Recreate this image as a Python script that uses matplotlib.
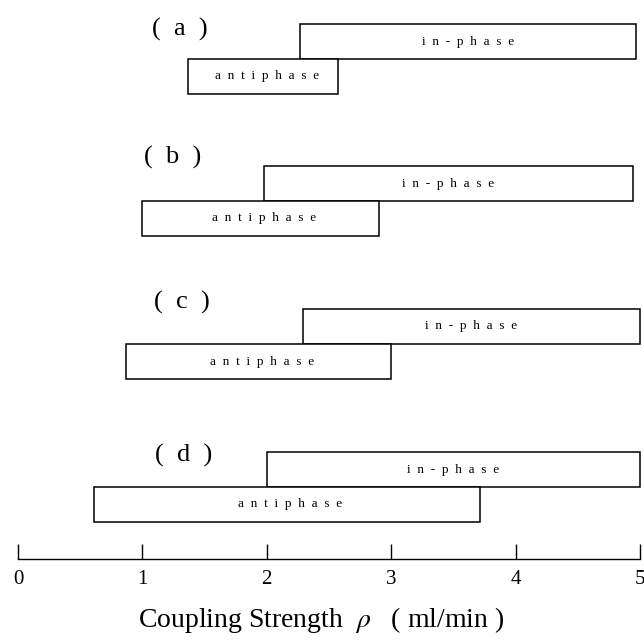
import matplotlib
matplotlib.use('Agg')
import matplotlib.pyplot as plt

########## data ##########
panels = ['(  a  )', '(  b  )', '(  c  )', '(  d  )']
inphase_start = [2.27, 1.98, 2.29, 2.0]
inphase_end = [4.97, 4.94, 5.0, 5.0]
antiphase_start = [1.37, 1.0, 0.87, 0.61]
antiphase_end = [2.57, 2.9, 3.0, 3.71]
xticks = [0, 1, 2, 3, 4, 5]

########## layout (figure pixel rows) ##########
row_mid = [59, 201, 344, 487]   # border between in-phase and antiphase bars
bar_h = 35
label_x = [1.30, 1.24, 1.32, 1.33]
label_y = [29, 157, 302, 455]

plt.rcParams['font.family'] = ['Liberation Serif', 'DejaVu Serif']
plt.rcParams['mathtext.fontset'] = 'stix'

fig = plt.figure(figsize=(6.44, 6.4), dpi=100)
ax = fig.add_axes([18 / 644, 0, 622 / 644, 1])
ax.set_xlim(0, 5)
ax.set_ylim(640, 0)

for i in range(len(panels)):
    yc_in = row_mid[i] - bar_h / 2
    yc_anti = row_mid[i] + bar_h / 2
    ax.barh(yc_in, inphase_end[i] - inphase_start[i], left=inphase_start[i],
            height=bar_h, color='white', edgecolor='black', linewidth=1.1, clip_on=False)
    ax.barh(yc_anti, antiphase_end[i] - antiphase_start[i], left=antiphase_start[i],
            height=bar_h, color='white', edgecolor='black', linewidth=1.1, clip_on=False)
    ax.text((inphase_start[i] + inphase_end[i]) / 2, yc_in, 'i  n  -  p  h  a  s  e',
            ha='center', va='center', fontsize=9.5)
    ax.text((antiphase_start[i] + antiphase_end[i]) / 2 + 0.03, yc_anti, 'a  n  t  i  p  h  a  s  e',
            ha='center', va='center', fontsize=9.5)
    ax.text(label_x[i], label_y[i], panels[i], ha='center', va='center', fontsize=19)

# x axis drawn across the lower part of the figure
for s in ['left', 'right', 'top']:
    ax.spines[s].set_visible(False)
ax.spines['bottom'].set_position(('data', 559))
ax.spines['bottom'].set_linewidth(1.0)
ax.set_yticks([])
ax.set_xticks(xticks)
ax.set_xticklabels([str(t) for t in xticks])
ax.tick_params(axis='x', direction='in', length=11, width=1.0, pad=8, labelsize=15)

fig.text(321 / 644, 1 - 620 / 640, r'Coupling Strength  $\rho$   ( ml/min )',
         ha='center', va='center', fontsize=20)

plt.savefig('out.png', dpi=100)
